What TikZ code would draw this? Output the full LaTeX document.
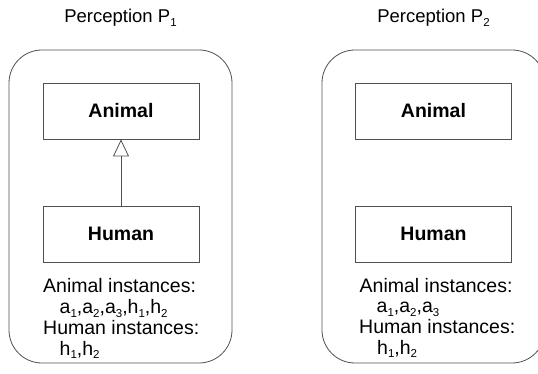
\documentclass[tikz,border=0pt]{standalone}
\usepackage{fontspec}
\setmainfont{Liberation Sans}
\usetikzlibrary{arrows.meta}
\definecolor{edge}{HTML}{505050}
% small lowered index, as in a_1
\newcommand\lowidx[1]{\raisebox{-3.5pt}{\fontsize{11.5}{12}\selectfont #1}}
\begin{document}
\begin{tikzpicture}[x=1pt,y=-1pt,
  panel/.style={draw=edge, line width=0.8pt, rounded corners=33pt,
    minimum width=223pt, minimum height=313pt, inner sep=0pt},
  cls/.style={draw=edge, line width=0.8pt, minimum width=156pt,
    minimum height=56pt, inner sep=0pt,
    font=\fontsize{19.5}{22}\selectfont\bfseries},
  txt/.style={anchor=base west, inner sep=0pt,
    font=\fontsize{19.5}{22}\selectfont},
  ttl/.style={anchor=base, inner sep=0pt,
    font=\fontsize{18.5}{22}\selectfont},
  isa/.style={draw=edge, line width=0.8pt,
    -{Triangle[open, length=17pt, width=16pt, line width=0.8pt]}}
]
\useasboundingbox (0,0) rectangle (538,374);

% Perception P1
\node[ttl] (t1) at (120.5,23) {Perception P\lowidx{1}};
\node[panel] (p1) at (120.5,206.5) {};
\node[cls] (animal1) at (121,111) {Animal};
\node[cls] (human1) at (121,234) {Human};
\draw[isa] (human1.north) -- (animal1.south);
\node[txt] (ai1) at (43,292.5) {Animal instances:};
\node[txt] (al1) at (59.5,313.5) {a\lowidx{1},a\lowidx{2},a\lowidx{3},h\lowidx{1},h\lowidx{2}};
\node[txt] (hi1) at (43,334.5) {Human instances:};
\node[txt] (hl1) at (59.5,355) {h\lowidx{1},h\lowidx{2}};

% Perception P2
\node[ttl] (t2) at (433.5,23) {Perception P\lowidx{2}};
\node[panel] (p2) at (433.5,206.5) {};
\node[cls] (animal2) at (433.5,111) {Animal};
\node[cls] (human2) at (433.5,234) {Human};
\node[txt] (ai2) at (359.5,292) {Animal instances:};
\node[txt] (al2) at (376.5,312.5) {a\lowidx{1},a\lowidx{2},a\lowidx{3}};
\node[txt] (hi2) at (359,333.5) {Human instances:};
\node[txt] (hl2) at (377,354) {h\lowidx{1},h\lowidx{2}};
\end{tikzpicture}
\end{document}
